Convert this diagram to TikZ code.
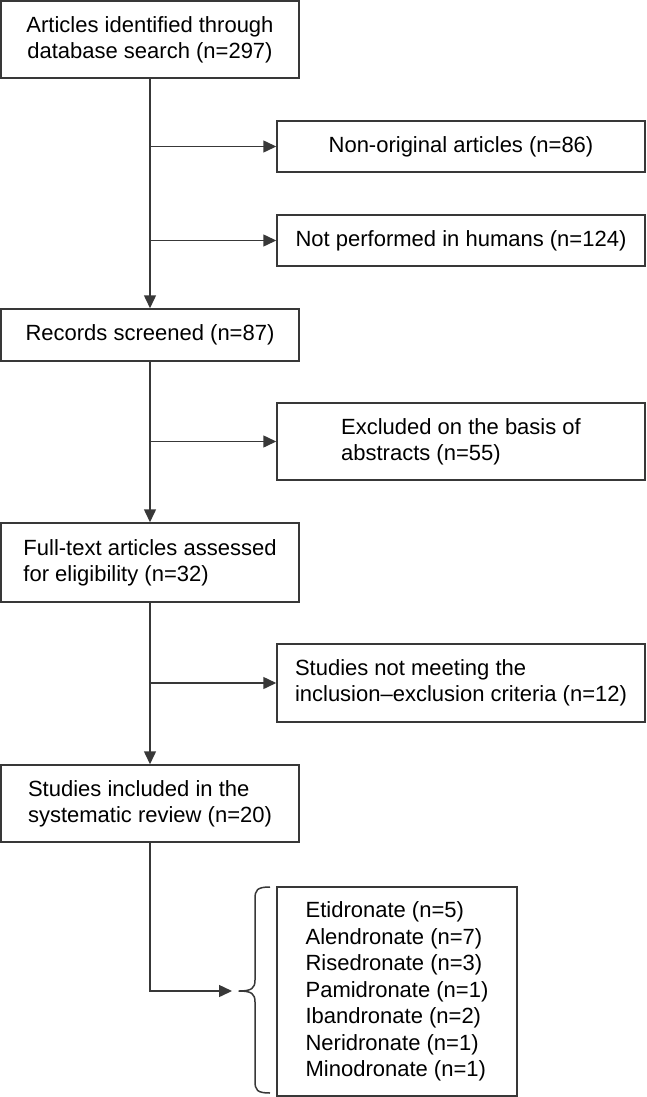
\documentclass[tikz,border=0pt]{standalone}
\usepackage{fontspec}
\setmainfont{Liberation Sans}
\usetikzlibrary{arrows.meta}
\begin{document}
\begin{tikzpicture}[x=1pt,y=-1pt,
  box/.style={draw=black!78, line width=1.5pt, inner sep=0pt, text=black,
    font=\fontsize{22}{26}\selectfont},
  wide/.style={box, minimum width=298pt},
  side/.style={box, minimum width=368pt},
  arr/.style={draw=black!78, line width=1.5pt, -{Triangle[length=13pt,width=12pt]}},
  ln/.style={draw=black!78, line width=1.5pt, line join=round}]
\useasboundingbox (0,0) rectangle (646,1097);

\node[wide, minimum height=77pt, align=center] (b1) at (150,39.5)
  {Articles identified through\\database search (n=297)};
\node[side, minimum height=51pt, align=center] (non) at (461,146.5)
  {Non-original articles (n=86)};
\node[side, minimum height=51pt, align=center] (hum) at (461,240.5)
  {Not performed in humans (n=124)};
\node[wide, minimum height=52pt, align=center] (rec) at (150,335)
  {Records screened (n=87)};
\node[side, minimum height=77pt, align=left] (exc) at (461,441.5)
  {Excluded on the basis of\\abstracts (n=55)};
\node[wide, minimum height=79pt, align=left] (full) at (150,562.5)
  {Full-text articles assessed\\for eligibility (n=32)};
\node[side, minimum height=78pt, align=left] (notm) at (461,683)
  {Studies not meeting the\\inclusion–exclusion criteria (n=12)};
\node[wide, minimum height=77pt, align=left] (incl) at (150,803.5)
  {Studies included in the\\systematic review (n=20)};
\node[box, minimum width=240pt, minimum height=209pt, align=left,
  font=\fontsize{22}{26.5}\selectfont] (list) at (397,991.5)
  {Etidronate (n=5)\\Alendronate (n=7)\\Risedronate (n=3)\\Pamidronate (n=1)\\Ibandronate (n=2)\\Neridronate (n=1)\\Minodronate (n=1)};

\coordinate (arrowend) at (232,991);

\draw[arr] (b1) -- (rec);
\draw[arr] (b1.south |- non.west) -- (non.west);
\draw[arr] (b1.south |- hum.west) -- (hum.west);
\draw[arr] (rec) -- (full);
\draw[arr] (rec.south |- exc.west) -- (exc.west);
\draw[arr] (full) -- (incl);
\draw[arr] (full.south |- notm.west) -- (notm.west);
\draw[arr] (incl.south) |- (arrowend);

% brace
\draw[ln] (270,887) .. controls (257,887) and (255,890) .. (255,899)
  -- (255,980) .. controls (255,988) and (252,991) .. (239,991)
  .. controls (252,991) and (255,994) .. (255,1002)
  -- (255,1081) .. controls (255,1090) and (257,1093) .. (270,1093);
\end{tikzpicture}
\end{document}
